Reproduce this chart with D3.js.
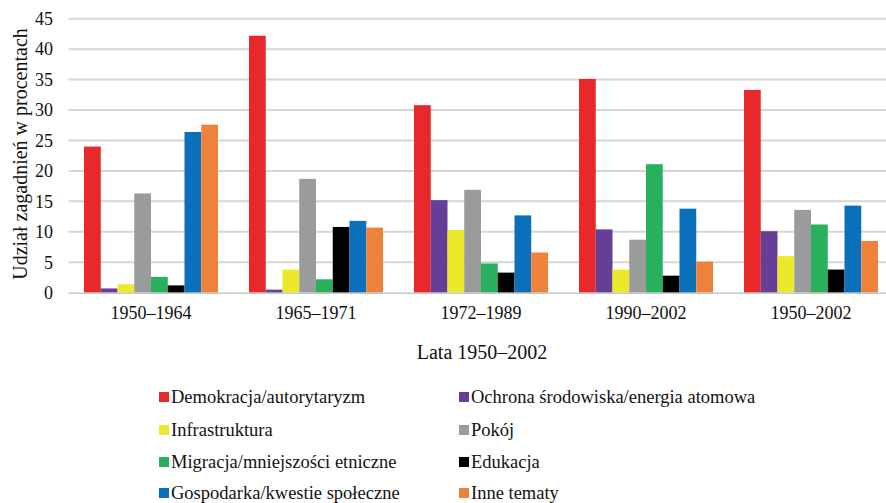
<!DOCTYPE html>
<html>
<head>
<meta charset="utf-8">
<script src="https://cdn.jsdelivr.net/npm/d3@7"></script>
<style>
  html, body { margin: 0; padding: 0; background: #fff; }
</style>
</head>
<body>
<div id="chart"></div>
<script>
const periods = ['1950–1964', '1965–1971', '1972–1989', '1990–2002', '1950–2002'];

const topics = [
  'Demokracja/autorytaryzm',
  'Ochrona środowiska/energia atomowa',
  'Infrastruktura',
  'Pokój',
  'Migracja/mniejszości etniczne',
  'Edukacja',
  'Gospodarka/kwestie społeczne',
  'Inne tematy'
];

const topicColors = ['#e8292b', '#643e97', '#ece82a', '#9a9b9d', '#29b05d', '#000000', '#0c6fba', '#ef823b'];

// values per topic, one per period
const demokracja   = [24.0, 42.2, 30.8, 35.1, 33.3];
const srodowisko   = [0.7, 0.5, 15.2, 10.4, 10.1];
const infra        = [1.4, 3.8, 10.3, 3.8, 6.0];
const pokoj        = [16.3, 18.7, 16.9, 8.7, 13.6];
const migracja     = [2.6, 2.2, 4.8, 21.1, 11.2];
const edukacja     = [1.2, 10.8, 3.3, 2.8, 3.8];
const gospodarka   = [26.4, 11.8, 12.7, 13.8, 14.3];
const inne         = [27.6, 10.7, 6.6, 5.1, 8.5];

const seriesValues = [demokracja, srodowisko, infra, pokoj, migracja, edukacja, gospodarka, inne];
const yTicks = [0, 5, 10, 15, 20, 25, 30, 35, 40, 45];

const W = 886, H = 503;
const plot = { left: 68.5, right: 893.5, top: 18.7, bottom: 292.7 };
const FONT = '"Liberation Serif", serif';

const svg = d3.select('#chart').append('svg')
  .attr('width', W)
  .attr('height', H)
  .style('display', 'block');

const x0 = d3.scaleBand()
  .domain(periods)
  .range([plot.left, plot.right])
  .paddingInner(31 / 165)
  .paddingOuter(15.5 / 165);

const x1 = d3.scaleBand()
  .domain(d3.range(topics.length))
  .range([0, x0.bandwidth()]);

const y = d3.scaleLinear().domain([0, 45]).range([plot.bottom, plot.top]);

// gridlines
svg.append('g')
  .selectAll('line')
  .data(yTicks.filter(d => d > 0))
  .join('line')
  .attr('x1', plot.left)
  .attr('x2', W)
  .attr('y1', d => y(d))
  .attr('y2', d => y(d))
  .attr('stroke', '#d6d6d6')
  .attr('stroke-width', 2);

// y tick labels
svg.append('g')
  .selectAll('text')
  .data(yTicks)
  .join('text')
  .attr('x', 53)
  .attr('y', d => y(d))
  .attr('dy', '0.35em')
  .attr('text-anchor', 'end')
  .style('font-family', FONT)
  .attr('font-size', '18px')
  .attr('fill', '#111')
  .text(d => d);

// bars
const groups = svg.append('g')
  .selectAll('g')
  .data(periods)
  .join('g')
  .attr('transform', d => `translate(${x0(d)},0)`);

groups.selectAll('rect')
  .data((p, i) => seriesValues.map((vals, k) => ({ k, v: vals[i] })))
  .join('rect')
  .attr('x', d => x1(d.k))
  .attr('width', x1.bandwidth())
  .attr('y', d => y(d.v))
  .attr('height', d => y(0) - y(d.v))
  .attr('fill', d => topicColors[d.k]);

// baseline
svg.append('line')
  .attr('x1', plot.left)
  .attr('x2', W)
  .attr('y1', y(0) + 0.5)
  .attr('y2', y(0) + 0.5)
  .attr('stroke', '#c8c8c8')
  .attr('stroke-width', 1.5);

// x labels
svg.append('g')
  .selectAll('text')
  .data(periods)
  .join('text')
  .attr('x', d => x0(d) + x0.bandwidth() / 2)
  .attr('y', 313)
  .attr('dy', '0.35em')
  .attr('text-anchor', 'middle')
  .style('font-family', FONT)
  .attr('font-size', '18px')
  .attr('fill', '#111')
  .text(d => d);

// axis titles
svg.append('text')
  .attr('x', 482)
  .attr('y', 352)
  .attr('dy', '0.35em')
  .attr('text-anchor', 'middle')
  .style('font-family', FONT)
  .attr('font-size', '20px')
  .attr('fill', '#111')
  .text('Lata 1950–2002');

svg.append('text')
  .attr('transform', 'translate(20,154) rotate(-90)')
  .attr('dy', '0.35em')
  .attr('text-anchor', 'middle')
  .style('font-family', FONT)
  .attr('font-size', '20px')
  .attr('fill', '#111')
  .text('Udział zagadnień w procentach');

// legend
const legendCols = [159, 459];
const legendRows = [397, 430, 462, 493];
const legend = svg.append('g')
  .selectAll('g')
  .data(topics)
  .join('g')
  .attr('transform', (d, i) => `translate(${legendCols[i % 2]},${legendRows[Math.floor(i / 2)]})`);

legend.append('rect')
  .attr('x', 0)
  .attr('y', -5)
  .attr('width', 10)
  .attr('height', 10)
  .attr('fill', (d, i) => topicColors[i]);

legend.append('text')
  .attr('x', 12)
  .attr('y', 0)
  .attr('dy', '0.35em')
  .style('font-family', FONT)
  .attr('font-size', '18.5px')
  .attr('fill', '#111')
  .text(d => d);
</script>
</body>
</html>
